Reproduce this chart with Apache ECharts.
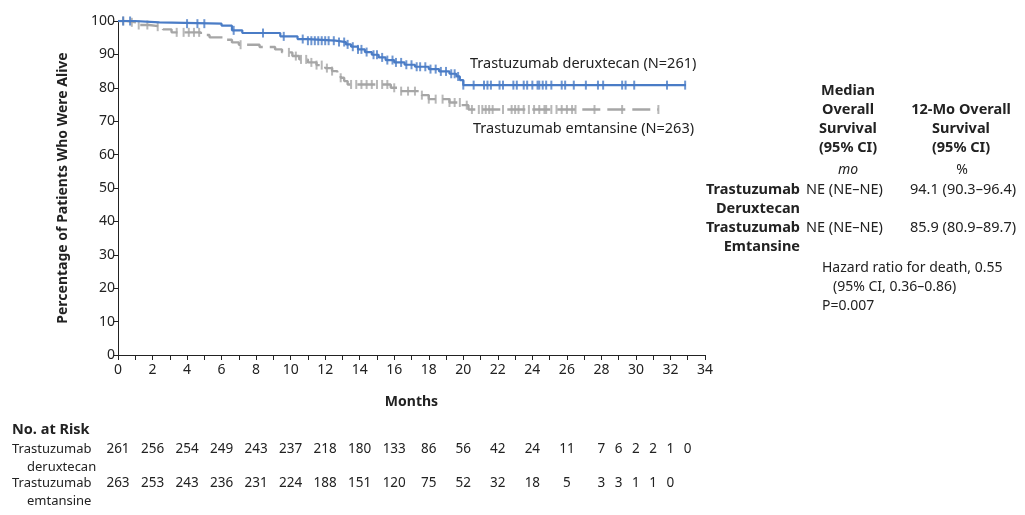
<!DOCTYPE html>
<html><head><meta charset="utf-8">
<script src="https://cdn.jsdelivr.net/npm/echarts@6/dist/echarts.min.js"></script>
<style>html,body{margin:0;padding:0;background:#fff}#c{width:1025px;height:515px}</style>
</head><body><div id="c"></div>
<script>
// Kaplan-Meier steps [month, % alive]
const dxdSteps = [[0,100],[0.9,99.6],[2.4,99.2],[6.0,98.6],[6.6,97.2],[7.2,96.4],[9.4,95.4],[10.4,94.6],[11.0,94.1],[12.6,93.7],[13.2,93.0],[13.5,92.3],[13.9,91.5],[14.3,90.7],[14.7,89.9],[15.1,89.1],[15.5,88.3],[16.0,87.6],[16.6,86.9],[17.2,86.3],[18.0,85.6],[18.6,84.9],[19.2,84.2],[19.6,83.4],[19.8,82.3],[20.0,80.8],[32.9,80.8]];
const tdm1Steps = [[0,100],[0.5,99.6],[1.1,98.8],[1.8,98.3],[2.6,97.5],[3.1,96.6],[4.8,95.8],[5.3,95.1],[6.2,94.4],[6.6,93.6],[7.0,92.9],[8.2,92.2],[9.1,91.5],[9.5,90.6],[10.1,89.5],[10.5,88.5],[11.0,87.6],[11.5,86.8],[12.0,85.9],[12.4,85.0],[12.7,84.0],[12.9,83.0],[13.1,82.0],[13.3,81.0],[15.8,80.0],[16.2,79.0],[17.6,77.8],[18.0,76.6],[19.2,75.6],[19.9,74.8],[20.3,73.5],[31.3,73.5]];
// censoring times (months)
const dxdCensor = [0.3,0.7,4.0,4.6,5.0,6.7,8.4,9.6,10.7,11.0,11.2,11.4,11.6,11.8,12.0,12.2,12.5,12.8,13.1,13.3,13.6,13.9,14.1,14.4,14.8,15.0,15.3,15.6,15.9,16.1,16.4,16.7,17.0,17.3,17.5,17.8,18.1,18.4,18.7,19.0,19.3,19.5,19.7,20.0,20.6,21.2,21.4,21.6,22.1,22.3,22.9,23.1,23.5,23.7,24.0,24.3,24.4,24.6,24.8,25.1,25.7,25.9,26.4,27.1,27.8,28.1,29.2,29.4,29.9,31.8,32.85];
const tdm1Censor = [0.3,0.8,1.2,1.7,2.3,3.4,3.8,4.1,4.4,4.7,7.1,9.9,10.3,10.6,10.9,11.2,11.5,11.8,12.1,12.4,12.9,13.5,13.8,14.1,14.4,14.7,15.0,15.3,15.6,16.0,16.4,16.8,17.2,17.6,18.0,18.4,18.8,19.2,19.5,19.8,20.2,20.5,20.9,21.1,21.3,21.5,21.7,22.3,22.8,23.0,23.2,23.5,23.8,24.1,24.4,24.7,24.8,25.1,25.4,25.7,26.0,26.3,26.5,27.6,29.2,31.3];
// number at risk
const riskMonths = [0,2,4,6,8,10,12,14,16,18,20,22,24,26,28,29,30,31,32,33];
const riskDxd = [261,256,254,249,243,237,218,180,133,86,56,42,24,11,7,6,2,2,1,0];
const riskTdm1 = [263,253,243,236,231,224,188,151,120,75,52,32,18,5,3,3,1,1,0,null];
const xTicks = [0,2,4,6,8,10,12,14,16,18,20,22,24,26,28,30,32,34];

const BLUE = '#4a7cc6', GRAY = '#a6a6a6';
const FONT = 'Noto Sans';
function survAt(steps, t){ let v = steps[0][1]; for (const s of steps){ if (s[0] <= t) v = s[1]; } return v; }

const chart = echarts.init(document.getElementById('c'));
const txt = {fontFamily: FONT, fontSize: 14, color: '#222'};
chart.setOption({
  animation: false,
  textStyle: {fontFamily: FONT},
  grid: {left: 118, right: 320, top: 21, bottom: 160},
  xAxis: {type: 'value', min: 0, max: 34, interval: 1,
    axisLine: {onZero: false, lineStyle: {color: '#222', width: 1}},
    axisTick: {length: 5, lineStyle: {color: '#222'}},
    splitLine: {show: false},
    axisLabel: Object.assign({margin: 8, formatter: v => xTicks.includes(v) ? String(v) : ''}, txt),
    name: 'Months', nameLocation: 'middle', nameGap: 40,
    nameTextStyle: {fontFamily: FONT, fontSize: 14, fontWeight: 'bold', color: '#222'}},
  yAxis: {type: 'value', min: 0, max: 100, interval: 10,
    axisLine: {show: true, lineStyle: {color: '#222', width: 1}},
    axisTick: {show: true, length: 5, lineStyle: {color: '#222'}},
    splitLine: {show: false},
    axisLabel: Object.assign({margin: 3}, txt),
    name: 'Percentage of Patients Who Were Alive', nameLocation: 'middle', nameGap: 48, nameRotate: 90,
    nameTextStyle: {fontFamily: FONT, fontSize: 14, fontWeight: 'bold', color: '#222'}},
  series: [
    {type: 'line', step: 'end', data: tdm1Steps, showSymbol: false, z: 2,
      lineStyle: {color: GRAY, width: 2.4, type: [18, 7]}},
    {type: 'scatter', data: tdm1Censor.map(t => [t, survAt(tdm1Steps, t)]), symbol: 'rect', symbolSize: [2, 9], z: 2,
      itemStyle: {color: GRAY}},
    {type: 'line', step: 'end', data: dxdSteps, showSymbol: false, z: 3,
      lineStyle: {color: BLUE, width: 2.2}},
    {type: 'scatter', data: dxdCensor.map(t => [t, survAt(dxdSteps, t)]), symbol: 'rect', symbolSize: [2, 9], z: 3,
      itemStyle: {color: BLUE}}
  ]
});

function T(x, y, text, opt){ return {type: 'text', x, y, style: Object.assign({text, fontFamily: FONT, fontSize: 14, fill: '#222', textVerticalAlign: 'middle'}, opt || {})}; }
const B = {fontWeight: 'bold', fontSize: 14.5};
const g = [];
g.push(T(470, 64, 'Trastuzumab deruxtecan (N=261)', {fontSize: 14.5}));
g.push(T(473, 129, 'Trastuzumab emtansine (N=263)', {fontSize: 14.5}));
// right table
['Median','Overall','Survival','(95% CI)'].forEach((s,i) => g.push(T(848, 91 + i*19, s, Object.assign({textAlign: 'center'}, B))));
['12-Mo Overall','Survival','(95% CI)'].forEach((s,i) => g.push(T(961, 110 + i*19, s, Object.assign({textAlign: 'center'}, B))));
g.push(T(848, 170, 'mo', {textAlign: 'center', fontStyle: 'italic'}));
g.push(T(962, 170, '%', {textAlign: 'center'}));
g.push(T(800, 190, 'Trastuzumab', Object.assign({textAlign: 'right'}, B)));
g.push(T(800, 209, 'Deruxtecan', Object.assign({textAlign: 'right'}, B)));
g.push(T(800, 228, 'Trastuzumab', Object.assign({textAlign: 'right'}, B)));
g.push(T(800, 247, 'Emtansine', Object.assign({textAlign: 'right'}, B)));
g.push(T(806, 190, 'NE (NE–NE)', {fontSize: 14.5}));
g.push(T(806, 228, 'NE (NE–NE)', {fontSize: 14.5}));
g.push(T(910, 190, '94.1 (90.3–96.4)', {fontSize: 14.5}));
g.push(T(910, 228, '85.9 (80.9–89.7)', {fontSize: 14.5}));
g.push(T(822, 268, 'Hazard ratio for death, 0.55'));
g.push(T(833, 287, '(95% CI, 0.36–0.86)'));
g.push(T(822, 306, 'P=0.007'));
// at risk
g.push(T(12, 430, 'No. at Risk', B));
g.push(T(12, 449, 'Trastuzumab', {fontSize: 13}));
g.push(T(27, 467, 'deruxtecan', {fontSize: 13}));
g.push(T(12, 483, 'Trastuzumab', {fontSize: 13}));
g.push(T(27, 501, 'emtansine', {fontSize: 13}));
riskMonths.forEach((m, i) => {
  const x = chart.convertToPixel({xAxisIndex: 0}, m);
  if (riskDxd[i] != null) g.push(T(x, 449, String(riskDxd[i]), {textAlign: 'center', fontSize: 13.5}));
  if (riskTdm1[i] != null) g.push(T(x, 483, String(riskTdm1[i]), {textAlign: 'center', fontSize: 13.5}));
});
chart.setOption({graphic: {elements: g}});
</script></body></html>
